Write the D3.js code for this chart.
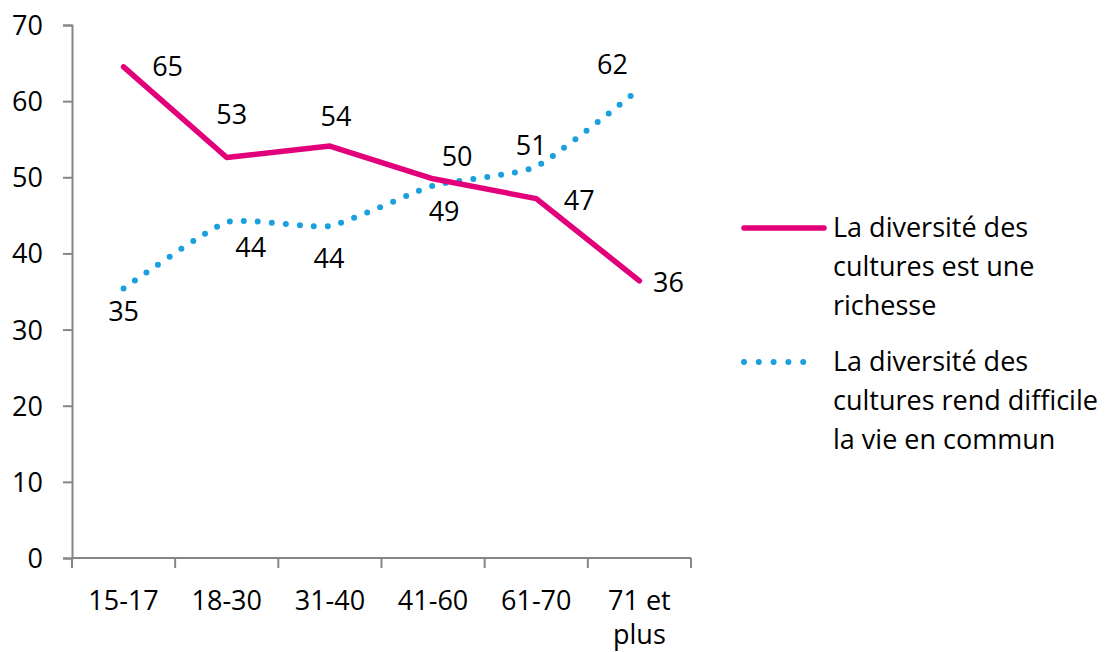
<!DOCTYPE html>
<html lang="fr">
<head>
  <meta charset="UTF-8" />
  <title>Diversité des cultures</title>
  <script src="https://d3js.org/d3.v7.min.js"></script>
  <style>
    body { margin: 0; background: #fff; }
    text { font-family: "Open Sans", "Noto Sans", sans-serif; fill: #000; }
  </style>
</head>
<body>
  <svg></svg>
<script>
  // data
  const categories = ['15-17', '18-30', '31-40', '41-60', '61-70', '71 et plus'];
  const richesse = [64.5, 52.6, 54.1, 49.8, 47.2, 36.4];
  const difficile = [35.4, 44.1, 43.6, 48.9, 51.4, 61.6];
  const richesseLabels = [65, 53, 54, 50, 47, 36];
  const difficileLabels = [35, 44, 44, 49, 51, 62];
  const seriesNames = [
    ['La diversité des', 'cultures est une', 'richesse'],
    ['La diversité des', 'cultures rend difficile', 'la vie en commun']
  ];
  const yTicks = [0, 10, 20, 30, 40, 50, 60, 70];

  // label offsets (dx, dy of baseline) relative to each point
  const richesseOff = [[44, 9], [5, -33], [6, -20], [24, -13], [43, 11], [29, 11]];
  const difficileOff = [[0, 33], [24, 35], [-1, 42], [11, 35], [-5, -12], [-27, -15]];

  const width = 1108, height = 652;
  const margin = { left: 72, right: 1108 - 691, top: 25, bottom: 652 - 558 };
  const pink = '#E2007A', blue = '#1BA0DF', axisGrey = '#868686';
  const fs = '27px';

  const svg = d3.select('svg').attr('width', width).attr('height', height);

  const x = d3.scaleBand().domain(categories)
    .range([margin.left, width - margin.right]);
  const y = d3.scaleLinear().domain([0, 70])
    .range([height - margin.bottom, margin.top]);
  const cx = d => x(d) + x.bandwidth() / 2;

  // y axis
  const yAxis = svg.append('g')
    .attr('transform', 'translate(' + margin.left + ',0)')
    .call(d3.axisLeft(y).tickValues(yTicks).tickSize(9).tickPadding(20));
  yAxis.select('.domain').attr('stroke', axisGrey).attr('stroke-width', 2);
  yAxis.selectAll('.tick line').attr('stroke', axisGrey).attr('stroke-width', 2);
  yAxis.selectAll('.tick text').style('font-size', fs).attr('dy', '0.35em');

  // x axis, ticks on band edges
  const xg = svg.append('g')
    .attr('transform', 'translate(0,' + y(0) + ')');
  xg.append('line')
    .attr('x1', margin.left).attr('x2', width - margin.right)
    .attr('stroke', axisGrey).attr('stroke-width', 2);
  const edges = categories.map(d => x(d)).concat([x(categories[categories.length - 1]) + x.bandwidth()]);
  xg.selectAll('.edge').data(edges).join('line')
    .attr('x1', d => d).attr('x2', d => d)
    .attr('y1', 0).attr('y2', 10)
    .attr('stroke', axisGrey).attr('stroke-width', 2);
  xg.selectAll('.xl').data(categories).join('text')
    .attr('text-anchor', 'middle')
    .style('font-size', fs)
    .each(function (d) {
      const words = d === '71 et plus' ? ['71 et', 'plus'] : [d];
      d3.select(this).selectAll('tspan').data(words).join('tspan')
        .attr('x', cx(d))
        .attr('y', (w, i) => 52 + i * 34)
        .text(w => w);
    });

  // lines
  const pinkLine = d3.line()
    .x((d, i) => cx(categories[i]))
    .y(d => y(d));
  const blueLine = d3.line()
    .x((d, i) => cx(categories[i]))
    .y(d => y(d))
    .curve(d3.curveCardinal.tension(0.5));

  svg.append('path').datum(difficile)
    .attr('d', blueLine)
    .attr('fill', 'none').attr('stroke', blue)
    .attr('stroke-width', 6).attr('stroke-linecap', 'round')
    .attr('stroke-dasharray', '0 14');

  svg.append('path').datum(richesse)
    .attr('d', pinkLine)
    .attr('fill', 'none').attr('stroke', pink)
    .attr('stroke-width', 5.5).attr('stroke-linejoin', 'round')
    .attr('stroke-linecap', 'round');

  // data labels
  svg.selectAll('.lr').data(richesse).join('text')
    .attr('text-anchor', 'middle').style('font-size', fs)
    .attr('x', (d, i) => cx(categories[i]) + richesseOff[i][0])
    .attr('y', (d, i) => y(d) + richesseOff[i][1])
    .text((d, i) => richesseLabels[i]);
  svg.selectAll('.ld').data(difficile).join('text')
    .attr('text-anchor', 'middle').style('font-size', fs)
    .attr('x', (d, i) => cx(categories[i]) + difficileOff[i][0])
    .attr('y', (d, i) => y(d) + difficileOff[i][1])
    .text((d, i) => difficileLabels[i]);

  // legend
  const legend = svg.append('g');
  const legY = [237, 371];
  seriesNames.forEach((lines, k) => {
    const g = legend.append('g').attr('transform', 'translate(0,' + legY[k] + ')');
    g.append('line')
      .attr('x1', 744).attr('x2', k === 0 ? 824 : 818)
      .attr('y1', -9).attr('y2', -9)
      .attr('stroke', k === 0 ? pink : blue)
      .attr('stroke-width', k === 0 ? 5.5 : 6)
      .attr('stroke-linecap', 'round')
      .attr('stroke-dasharray', k === 0 ? null : '0 14.8');
    g.append('text').style('font-size', fs)
      .selectAll('tspan').data(lines).join('tspan')
      .attr('x', 833).attr('y', (d, i) => i * 39)
      .text(d => d);
  });
</script>
</body>
</html>
